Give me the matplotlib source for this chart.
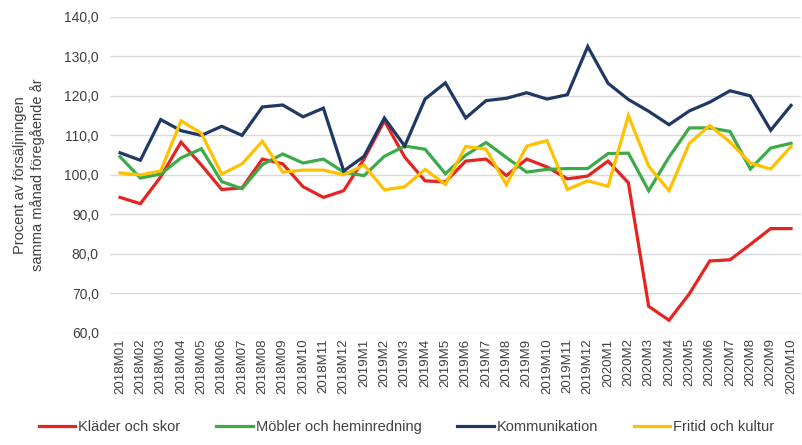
import matplotlib
matplotlib.use("Agg")
import matplotlib.pyplot as plt
from matplotlib.ticker import FuncFormatter

months = (["2018M%02d" % i for i in range(1, 13)] +
          ["2019M%d" % i for i in range(1, 13)] +
          ["2020M%d" % i for i in range(1, 11)])

klader = [94.3, 92.7, 99.5, 108.3, 102.5, 96.3, 96.7, 104.0, 102.8, 97.0, 94.3, 96.0,
          104.0, 113.7, 104.5, 98.5, 98.2, 103.5, 104.0, 99.8, 104.0, 102.0, 99.0, 99.7,
          103.5, 98.0, 66.7, 63.2, 69.9, 78.2, 78.5, 82.4, 86.4, 86.4]
mobler = [104.6, 99.2, 100.2, 104.3, 106.6, 98.3, 96.5, 102.6, 105.3, 103.0, 104.0, 100.7,
          99.8, 104.7, 107.3, 106.5, 100.3, 105.0, 108.2, 104.4, 100.7, 101.4, 101.6, 101.6,
          105.4, 105.5, 96.0, 104.5, 111.9, 111.9, 111.0, 101.5, 106.8, 108.0]
kommunikation = [105.6, 103.7, 114.0, 111.2, 110.0, 112.3, 110.0, 117.2, 117.7, 114.7, 116.9, 101.0,
                 104.7, 114.4, 107.3, 119.2, 123.3, 114.4, 118.8, 119.4, 120.8, 119.2, 120.3, 132.5,
                 123.2, 119.1, 116.1, 112.7, 116.2, 118.4, 121.3, 120.0, 111.3, 117.6]
fritid = [100.5, 100.0, 101.0, 113.7, 110.5, 100.2, 102.8, 108.5, 100.7, 101.2, 101.2, 100.0,
          102.5, 96.2, 97.0, 101.4, 97.6, 107.2, 106.5, 97.5, 107.3, 108.7, 96.3, 98.5,
          97.1, 115.0, 102.2, 96.0, 108.0, 112.5, 108.3, 103.0, 101.5, 107.2]

series = [
    ("Kläder och skor", klader, "#E52421"),
    ("Möbler och heminredning", mobler, "#3DAA49"),
    ("Kommunikation", kommunikation, "#1F3864"),
    ("Fritid och kultur", fritid, "#FFC000"),
]

plt.rcParams['font.family'] = ['Liberation Sans', 'DejaVu Sans']

fig = plt.figure(figsize=(8.02, 4.45), dpi=100)
ax = fig.add_axes([0.137, 0.252, 0.862, 0.71])

x = list(range(len(months)))
for name, vals, col in series:
    ax.plot(x, vals, color=col, lw=2.3, label=name, solid_joinstyle='miter')

ax.set_ylim(60, 140)
ax.set_yticks(range(60, 141, 10))
ax.yaxis.set_major_formatter(FuncFormatter(lambda v, p: f"{v:.1f}".replace(".", ",")))
ax.set_xlim(-0.5, len(months) - 0.5)
ax.set_xticks(x)
ax.set_xticklabels(months, rotation=90, fontsize=9.5, color="#404040")
ax.tick_params(axis='y', labelsize=10, colors="#404040", length=0, pad=8)
ax.tick_params(axis='x', length=0, pad=4)
ax.grid(axis='y', color="#D9D9D9", lw=1)
ax.set_axisbelow(True)
for s in ax.spines.values():
    s.set_visible(False)

ax.set_ylabel("Procent av försäljningen\nsamma månad föregående år", fontsize=10.5,
              color="#404040", labelpad=14)

fig.legend(loc='lower center', bbox_to_anchor=(0.507, -0.005), ncol=4, frameon=False,
           fontsize=10.5, handlelength=2.5, handletextpad=0.2, columnspacing=2.45,
           labelcolor="#404040")

fig.savefig("out.png", dpi=100)
